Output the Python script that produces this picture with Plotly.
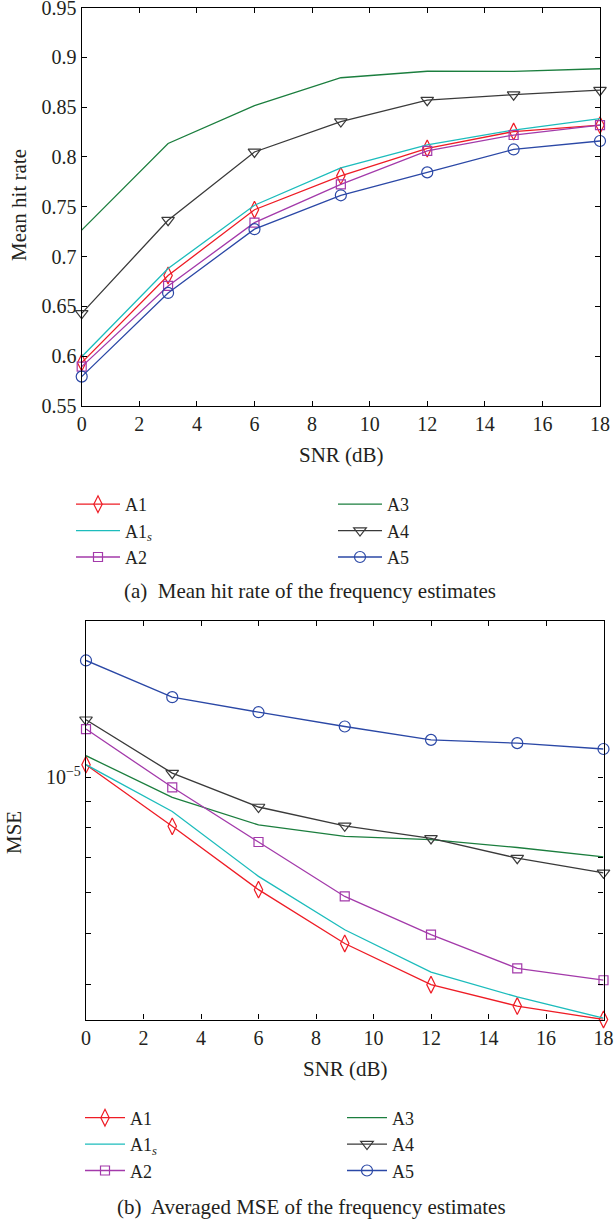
import plotly.graph_objects as go

# SNR grid shared by both panels
snr = [0, 3, 6, 9, 12, 15, 18]

# (a) mean hit rate of the frequency estimates
hit_a1 = [0.5935, 0.681, 0.747, 0.781, 0.8085, 0.8255, 0.832]
hit_a1s = [0.5995, 0.688, 0.7515, 0.789, 0.812, 0.827, 0.8385]
hit_a2 = [0.5895, 0.6705, 0.734, 0.7725, 0.806, 0.822, 0.832]
hit_a3 = [0.7265, 0.8135, 0.8515, 0.8795, 0.886, 0.8858, 0.8885]
hit_a4 = [0.643, 0.7365, 0.805, 0.8355, 0.857, 0.8625, 0.867]
hit_a5 = [0.5795, 0.6635, 0.7275, 0.7615, 0.7845, 0.8075, 0.816]

# (b) averaged MSE of the frequency estimates
mse_a1 = [1.058e-5, 8.05e-6, 6.08e-6, 4.79e-6, 3.99e-6, 3.63e-6, 3.42e-6]
mse_a1s = [1.058e-5, 8.60e-6, 6.45e-6, 5.09e-6, 4.22e-6, 3.78e-6, 3.44e-6]
mse_a2 = [1.239e-5, 9.57e-6, 7.51e-6, 5.90e-6, 4.98e-6, 4.29e-6, 4.07e-6]
mse_a3 = [1.101e-5, 9.15e-6, 8.10e-6, 7.70e-6, 7.59e-6, 7.33e-6, 7.03e-6]
mse_a4 = [1.291e-5, 1.019e-5, 8.77e-6, 8.07e-6, 7.63e-6, 6.99e-6, 6.55e-6]
mse_a5 = [1.679e-5, 1.427e-5, 1.335e-5, 1.253e-5, 1.181e-5, 1.164e-5, 1.134e-5]

# tick labels
hit_ticks = [0.55, 0.6, 0.65, 0.7, 0.75, 0.8, 0.85, 0.9, 0.95]
snr_ticks = [0, 2, 4, 6, 8, 10, 12, 14, 16, 18]
mse_ticks = [4e-6, 5e-6, 6e-6, 7e-6, 8e-6, 9e-6, 1e-5]
mse_ticktext = ["", "", "", "", "", "", "10<sup>\u22125</sup>"]

W, H = 614, 1224
FONT = "Liberation Serif"
TXT = "#231F20"

# name, colour, marker symbol (None = plain line)
styles = {
    "A1": ("A1", "#EE1C25", "diamond-tall-open", 12),
    "A1s": ("A1<sub><i>s</i></sub>", "#1CBCBC", None, 0),
    "A2": ("A2", "#A33AAA", "square-open", 9),
    "A3": ("A3", "#1B7E3E", None, 0),
    "A4": ("A4", "#3A3A3A", "triangle-down-open", 11),
    "A5": ("A5", "#2B48A6", "circle-open", 11),
}
hit_data = {"A1": hit_a1, "A1s": hit_a1s, "A2": hit_a2, "A3": hit_a3, "A4": hit_a4, "A5": hit_a5}
mse_data = {"A1": mse_a1, "A1s": mse_a1s, "A2": mse_a2, "A3": mse_a3, "A4": mse_a4, "A5": mse_a5}

# row-major legend order gives two columns: A1 A1s A2 | A3 A4 A5
legend_order = ["A1", "A3", "A1s", "A4", "A2", "A5"]

fig = go.Figure()


def add_series(data, xa, ya, leg):
    for key in legend_order:
        name, color, symbol, size = styles[key]
        kw = dict(
            x=snr, y=data[key], name=name, xaxis=xa, yaxis=ya, legend=leg,
            line=dict(color=color, width=1.3), cliponaxis=False,
        )
        if symbol:
            kw["mode"] = "lines+markers"
            kw["marker"] = dict(symbol=symbol, size=size, color=color,
                                line=dict(color=color, width=1.2))
        else:
            kw["mode"] = "lines"
        fig.add_trace(go.Scatter(**kw))


add_series(hit_data, "x", "y", "legend")
add_series(mse_data, "x2", "y2", "legend2")


def px_x(p):
    return p / W


def px_y(p):
    return 1 - p / H


axis_common = dict(
    showline=True, linecolor="black", linewidth=1.3, mirror="ticks",
    ticks="inside", ticklen=5, tickwidth=1.1, tickcolor="black",
    showgrid=False, zeroline=False, ticklabeloverflow="allow",
    tickfont=dict(family=FONT, size=20, color=TXT),
)

legend_common = dict(
    orientation="h", xanchor="left", yanchor="top", xref="container", yref="container",
    entrywidthmode="pixels", bgcolor="rgba(0,0,0,0)",
    font=dict(family=FONT, size=18, color=TXT), tracegroupgap=0,
)

fig.update_layout(
    width=W, height=H,
    margin=dict(l=0, r=0, t=0, b=0, autoexpand=False),
    paper_bgcolor="white", plot_bgcolor="white",
    font=dict(family=FONT, size=20, color=TXT),
    xaxis=dict(domain=[px_x(81.7), px_x(600)], anchor="y", range=[0, 18],
               tickvals=snr_ticks, **axis_common),
    yaxis=dict(domain=[px_y(406), px_y(7.5)], anchor="x", range=[0.55, 0.95],
               tickvals=hit_ticks, **axis_common),
    xaxis2=dict(domain=[px_x(86), px_x(603.5)], anchor="y2", range=[0, 18],
                tickvals=snr_ticks, **axis_common),
    yaxis2=dict(domain=[px_y(1019.5), px_y(621)], anchor="x2", type="log",
                range=[-5.466, -4.69897], tickvals=mse_ticks,
                ticktext=mse_ticktext, **axis_common),
    legend=dict(x=px_x(71), y=px_y(486), itemwidth=44, entrywidth=203, **legend_common),
    legend2=dict(x=px_x(80), y=px_y(1099.5), itemwidth=40, entrywidth=207, **legend_common),
    showlegend=True,
)

annotations = [
    dict(text="SNR (dB)", x=px_x(341), y=px_y(455)),
    dict(text="SNR (dB)", x=px_x(345), y=px_y(1069)),
    dict(text="Mean hit rate", x=px_x(19), y=px_y(205), textangle=-90),
    dict(text="MSE", x=px_x(14), y=px_y(833), textangle=-90),
    dict(text="(a)\u00a0 Mean hit rate of the frequency estimates", x=px_x(310), y=px_y(591)),
    dict(text="(b)\u00a0 Averaged MSE of the frequency estimates", x=px_x(311), y=px_y(1207)),
]
for a in annotations:
    fig.add_annotation(xref="paper", yref="paper", showarrow=False,
                       xanchor="center", yanchor="middle",
                       font=dict(family=FONT, size=21, color=TXT), **a)

fig.write_html("out.html")
